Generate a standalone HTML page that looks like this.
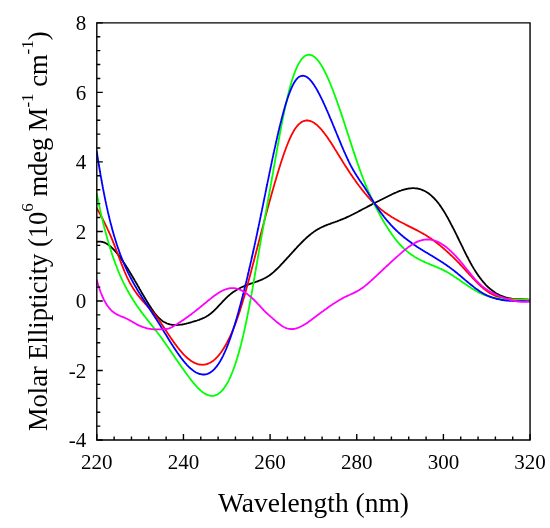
<!DOCTYPE html>
<html><head><meta charset="utf-8"><style>
html,body{margin:0;padding:0;background:#fff;width:550px;height:528px;overflow:hidden;font-family:"Liberation Serif",serif;}
svg{display:block;will-change:transform;}
</style></head><body>
<svg width="550" height="528" viewBox="0 0 550 528">
<rect width="550" height="528" fill="#fff"/>
<defs><clipPath id="c"><rect x="96.80" y="22.85" width="433.25" height="417.20"/></clipPath></defs>
<g clip-path="url(#c)" fill="none" stroke-width="1.80" stroke-linejoin="round" stroke-linecap="round">
<path stroke="#000000" d="M96.8,241.9 97.8,241.7 98.8,241.6 99.8,241.6 100.8,241.6 101.8,241.8 102.8,242.0 103.8,242.3 104.8,242.7 105.8,243.2 106.8,243.8 107.8,244.4 108.8,245.1 109.8,245.9 110.8,246.7 111.5,247.4 112.3,248.1 113.0,248.8 113.8,249.6 114.5,250.4 115.3,251.2 116.0,252.1 116.8,253.0 117.5,253.9 118.3,254.9 119.0,255.8 119.8,256.8 120.5,257.9 121.3,258.9 122.0,260.0 122.8,261.1 123.5,262.2 124.3,263.3 125.0,264.5 125.8,265.6 126.5,266.8 127.3,268.0 128.1,269.2 128.8,270.5 129.6,271.7 130.3,272.9 131.1,274.2 131.8,275.5 132.6,276.8 133.3,278.0 134.1,279.3 134.8,280.6 135.6,281.9 136.1,282.8 136.6,283.6 137.1,284.5 137.6,285.4 138.1,286.3 138.6,287.1 139.1,288.0 139.6,288.9 140.1,289.7 140.6,290.6 141.3,291.9 142.1,293.2 142.8,294.5 143.6,295.8 144.3,297.0 145.1,298.3 145.8,299.5 146.6,300.8 147.3,302.0 148.1,303.2 148.8,304.4 149.6,305.6 150.3,306.8 151.1,307.9 151.8,309.1 152.6,310.1 153.3,311.2 154.1,312.2 154.8,313.2 155.6,314.2 156.3,315.1 157.1,316.0 157.8,316.8 158.6,317.6 159.3,318.4 160.1,319.0 161.1,319.9 162.1,320.7 163.1,321.4 164.1,322.0 165.1,322.5 166.1,323.0 167.1,323.5 168.1,323.8 169.1,324.1 170.1,324.4 171.1,324.6 172.1,324.8 173.1,324.9 174.1,325.0 175.1,325.0 176.1,325.0 177.1,325.0 178.1,324.9 179.1,324.9 180.1,324.7 181.1,324.6 182.1,324.5 183.1,324.3 184.1,324.1 185.1,323.9 186.1,323.7 187.1,323.4 188.1,323.2 189.1,322.9 190.1,322.6 191.1,322.3 192.1,322.0 193.1,321.7 194.1,321.4 195.1,321.1 196.1,320.8 197.1,320.5 198.1,320.1 199.1,319.8 200.1,319.4 201.1,319.0 202.1,318.6 203.1,318.2 204.1,317.7 205.1,317.2 206.1,316.7 207.1,316.1 208.1,315.5 209.1,314.8 210.1,314.1 211.1,313.3 212.1,312.4 212.8,311.8 213.6,311.1 214.3,310.4 215.1,309.6 215.8,308.9 216.6,308.1 217.3,307.3 218.1,306.5 218.8,305.7 219.6,304.9 220.3,304.1 221.1,303.3 221.8,302.5 222.6,301.7 223.3,300.9 224.1,300.1 224.8,299.4 225.6,298.6 226.3,297.9 227.1,297.1 227.8,296.4 228.6,295.8 229.6,294.9 230.6,294.1 231.6,293.3 232.6,292.5 233.6,291.8 234.6,291.2 235.6,290.5 236.6,289.9 237.6,289.3 238.6,288.8 239.6,288.3 240.6,287.8 241.6,287.3 242.6,286.8 243.6,286.4 244.6,286.0 245.6,285.6 246.6,285.2 247.6,284.8 248.6,284.5 249.6,284.1 250.6,283.7 251.6,283.4 252.6,283.1 253.6,282.7 254.6,282.4 255.6,282.0 256.6,281.7 257.6,281.3 258.6,280.9 259.6,280.5 260.6,280.1 261.6,279.7 262.6,279.3 263.6,278.8 264.6,278.3 265.6,277.8 266.6,277.2 267.6,276.6 268.6,276.0 269.6,275.3 270.6,274.5 271.6,273.7 272.6,272.9 273.6,272.1 274.3,271.4 275.1,270.7 275.8,270.0 276.6,269.3 277.3,268.6 278.1,267.8 278.8,267.1 279.6,266.3 280.3,265.5 281.1,264.7 281.8,263.9 282.6,263.1 283.3,262.3 284.1,261.5 284.8,260.7 285.6,259.9 286.3,259.1 287.1,258.2 287.8,257.4 288.6,256.6 289.3,255.8 290.1,254.9 290.8,254.1 291.6,253.3 292.3,252.4 293.1,251.6 293.8,250.8 294.6,250.0 295.3,249.1 296.1,248.3 296.8,247.5 297.6,246.7 298.3,245.9 299.1,245.1 299.8,244.3 300.6,243.6 301.3,242.8 302.1,242.0 302.8,241.3 303.6,240.5 304.3,239.8 305.1,239.1 305.8,238.4 306.6,237.7 307.3,237.0 308.1,236.4 309.1,235.5 310.1,234.7 311.1,233.9 312.1,233.1 313.1,232.4 314.1,231.6 315.1,231.0 316.1,230.3 317.1,229.7 318.1,229.1 319.1,228.6 320.1,228.0 321.1,227.5 322.1,227.0 323.1,226.6 324.1,226.1 325.1,225.7 326.1,225.3 327.1,224.9 328.1,224.5 329.1,224.1 330.1,223.8 331.1,223.4 332.1,223.0 333.1,222.7 334.1,222.3 335.1,222.0 336.1,221.6 337.1,221.3 338.1,220.9 339.1,220.5 340.1,220.1 341.1,219.7 342.1,219.3 343.1,218.9 344.1,218.5 345.1,218.1 346.1,217.6 347.1,217.1 348.1,216.7 349.1,216.2 350.1,215.7 351.1,215.2 352.1,214.7 353.1,214.2 354.1,213.7 355.1,213.2 356.1,212.7 357.1,212.2 358.1,211.7 359.1,211.1 360.1,210.6 361.1,210.1 362.1,209.5 363.1,209.0 364.1,208.5 365.1,208.0 366.1,207.5 367.1,206.9 368.1,206.4 369.1,205.9 370.1,205.4 371.1,204.9 372.1,204.3 373.1,203.8 374.1,203.3 375.1,202.8 376.1,202.3 377.1,201.8 378.1,201.3 379.1,200.8 380.1,200.2 381.1,199.7 382.1,199.2 383.1,198.7 384.1,198.2 385.1,197.7 386.1,197.2 387.1,196.7 388.1,196.2 389.1,195.7 390.1,195.2 391.1,194.8 392.1,194.3 393.1,193.8 394.1,193.3 395.1,192.9 396.1,192.5 397.1,192.0 398.1,191.6 399.1,191.2 400.1,190.8 401.1,190.5 402.1,190.1 403.1,189.8 404.1,189.5 405.1,189.3 406.1,189.0 407.1,188.8 408.1,188.6 409.1,188.5 410.1,188.4 411.1,188.3 412.1,188.2 413.1,188.2 414.1,188.2 415.1,188.3 416.1,188.4 417.1,188.5 418.1,188.7 419.1,189.0 420.1,189.2 421.1,189.5 422.1,189.9 423.1,190.3 424.1,190.8 425.1,191.3 426.1,191.8 427.1,192.5 428.1,193.1 429.1,193.8 430.1,194.6 431.1,195.4 432.1,196.3 432.8,197.0 433.6,197.7 434.3,198.5 435.1,199.3 435.8,200.1 436.6,201.0 437.3,201.9 438.1,202.8 438.8,203.8 439.6,204.8 440.3,205.9 441.1,207.0 441.8,208.1 442.6,209.2 443.3,210.4 444.1,211.6 444.8,212.8 445.6,214.1 446.3,215.4 446.8,216.3 447.3,217.1 447.8,218.0 448.3,218.9 448.8,219.9 449.3,220.8 449.8,221.7 450.3,222.7 450.8,223.6 451.3,224.6 451.8,225.5 452.3,226.5 452.8,227.5 453.3,228.4 453.8,229.4 454.3,230.4 454.8,231.4 455.3,232.4 455.8,233.4 456.3,234.4 456.8,235.4 457.3,236.5 457.8,237.5 458.3,238.5 458.8,239.5 459.3,240.6 459.8,241.6 460.3,242.6 460.8,243.6 461.3,244.7 461.8,245.7 462.3,246.7 462.8,247.7 463.3,248.8 463.8,249.8 464.3,250.8 464.8,251.8 465.3,252.8 465.8,253.8 466.3,254.8 466.8,255.8 467.3,256.8 467.8,257.7 468.3,258.7 468.8,259.7 469.3,260.6 469.8,261.5 470.3,262.5 470.8,263.4 471.3,264.3 471.8,265.2 472.3,266.1 473.1,267.4 473.8,268.6 474.6,269.9 475.3,271.1 476.1,272.2 476.8,273.4 477.6,274.5 478.3,275.6 479.1,276.6 479.8,277.6 480.6,278.6 481.3,279.6 482.1,280.5 482.8,281.5 483.6,282.3 484.3,283.2 485.1,284.0 485.8,284.8 486.6,285.6 487.3,286.3 488.1,287.1 488.8,287.8 489.6,288.4 490.6,289.3 491.6,290.1 492.6,290.8 493.6,291.6 494.6,292.2 495.6,292.9 496.6,293.5 497.6,294.0 498.6,294.6 499.6,295.1 500.6,295.5 501.6,295.9 502.6,296.3 503.6,296.7 504.6,297.0 505.6,297.4 506.6,297.6 507.6,297.9 508.6,298.1 509.6,298.3 510.6,298.5 511.6,298.7 512.5,298.8 513.5,299.0 514.5,299.1 515.5,299.2 516.5,299.3 517.5,299.4 518.5,299.4 519.5,299.5 520.5,299.5 521.5,299.6 522.5,299.6 523.5,299.6 524.5,299.7 525.5,299.7 526.5,299.7 527.5,299.7 528.5,299.8 529.5,299.8 529.8,299.8"/>
<path stroke="#ff0000" d="M96.8,208.1 97.3,209.0 97.8,210.0 98.3,210.9 98.8,211.8 99.3,212.7 99.8,213.6 100.3,214.6 100.8,215.5 101.3,216.5 101.8,217.4 102.3,218.4 102.8,219.3 103.3,220.3 103.8,221.3 104.3,222.3 104.8,223.3 105.3,224.3 105.8,225.3 106.3,226.4 106.8,227.4 107.3,228.5 107.8,229.6 108.3,230.6 108.8,231.7 109.3,232.9 109.8,234.0 110.3,235.1 110.8,236.3 111.3,237.5 111.8,238.7 112.3,239.9 112.8,241.1 113.3,242.4 113.8,243.7 114.3,244.9 114.8,246.2 115.3,247.5 115.8,248.8 116.3,250.2 116.8,251.5 117.3,252.8 117.8,254.1 118.3,255.5 118.8,256.8 119.3,258.1 119.8,259.4 120.3,260.8 120.8,262.1 121.3,263.4 121.8,264.7 122.3,265.9 122.8,267.2 123.3,268.4 123.8,269.7 124.3,270.9 124.8,272.1 125.3,273.2 125.8,274.4 126.3,275.5 126.8,276.6 127.3,277.6 127.8,278.7 128.3,279.7 128.8,280.7 129.3,281.6 129.8,282.6 130.3,283.5 130.8,284.4 131.3,285.3 132.1,286.6 132.8,287.8 133.6,289.0 134.3,290.1 135.1,291.2 135.8,292.3 136.6,293.4 137.3,294.4 138.1,295.4 138.8,296.3 139.6,297.2 140.3,298.2 141.1,299.1 141.8,299.9 142.6,300.8 143.3,301.6 144.1,302.5 144.8,303.3 145.6,304.1 146.3,304.9 147.1,305.8 147.8,306.6 148.6,307.4 149.3,308.2 150.1,309.0 150.8,309.9 151.6,310.7 152.3,311.6 153.1,312.5 153.8,313.4 154.6,314.3 155.3,315.2 156.1,316.2 156.8,317.2 157.6,318.2 158.3,319.3 159.1,320.3 159.8,321.4 160.6,322.5 161.3,323.6 162.1,324.7 162.8,325.8 163.6,327.0 164.3,328.1 165.1,329.3 165.8,330.4 166.6,331.5 167.3,332.7 168.1,333.8 168.8,334.9 169.6,336.1 170.3,337.2 171.1,338.3 171.8,339.4 172.6,340.4 173.3,341.5 174.1,342.6 174.8,343.6 175.6,344.6 176.3,345.6 177.1,346.6 177.8,347.6 178.6,348.5 179.3,349.4 180.1,350.4 180.8,351.2 181.6,352.1 182.3,353.0 183.1,353.8 183.8,354.6 184.6,355.4 185.3,356.1 186.1,356.8 186.8,357.5 187.6,358.2 188.6,359.0 189.6,359.8 190.6,360.5 191.6,361.2 192.6,361.8 193.6,362.4 194.6,362.9 195.6,363.3 196.6,363.7 197.6,364.1 198.6,364.3 199.6,364.5 200.6,364.7 201.6,364.7 202.6,364.8 203.6,364.7 204.6,364.6 205.6,364.4 206.6,364.2 207.6,363.8 208.6,363.4 209.6,363.0 210.6,362.4 211.6,361.8 212.6,361.2 213.6,360.4 214.6,359.6 215.3,358.9 216.1,358.2 216.8,357.4 217.6,356.6 218.3,355.8 219.1,354.9 219.8,353.9 220.6,353.0 221.3,351.9 222.1,350.8 222.8,349.7 223.6,348.6 224.3,347.3 225.1,346.1 225.6,345.2 226.1,344.3 226.6,343.4 227.1,342.5 227.6,341.5 228.1,340.5 228.6,339.5 229.1,338.5 229.6,337.4 230.1,336.4 230.6,335.3 231.1,334.2 231.6,333.0 232.1,331.9 232.6,330.7 233.1,329.5 233.6,328.2 234.1,327.0 234.6,325.7 235.1,324.4 235.6,323.1 236.1,321.7 236.6,320.4 237.1,319.0 237.6,317.5 238.1,316.1 238.6,314.6 239.1,313.1 239.6,311.6 240.1,310.1 240.6,308.5 241.1,306.9 241.6,305.3 242.1,303.7 242.6,302.0 243.1,300.3 243.6,298.6 244.1,296.9 244.6,295.2 245.1,293.4 245.6,291.7 246.1,289.9 246.6,288.1 247.1,286.3 247.6,284.5 248.1,282.7 248.6,280.8 249.1,279.0 249.6,277.1 250.1,275.2 250.6,273.3 251.1,271.4 251.6,269.5 252.1,267.6 252.6,265.7 253.1,263.8 253.6,261.9 254.1,260.0 254.6,258.0 255.1,256.1 255.6,254.2 256.1,252.3 256.6,250.3 257.1,248.4 257.6,246.5 258.1,244.6 258.6,242.6 259.1,240.7 259.6,238.8 260.1,236.9 260.6,235.0 261.1,233.1 261.6,231.2 262.1,229.3 262.6,227.4 263.1,225.5 263.6,223.6 264.1,221.7 264.6,219.8 265.1,217.9 265.6,216.1 266.1,214.2 266.6,212.3 267.1,210.5 267.6,208.6 268.1,206.8 268.6,205.0 269.1,203.1 269.6,201.3 270.1,199.5 270.6,197.7 271.1,195.9 271.6,194.1 272.1,192.4 272.6,190.6 273.1,188.9 273.6,187.1 274.1,185.4 274.6,183.6 275.1,181.9 275.6,180.2 276.1,178.5 276.6,176.8 277.1,175.2 277.6,173.5 278.1,171.9 278.6,170.2 279.1,168.6 279.6,167.0 280.1,165.4 280.6,163.8 281.1,162.3 281.6,160.7 282.1,159.2 282.6,157.7 283.1,156.2 283.6,154.8 284.1,153.3 284.6,151.9 285.1,150.5 285.6,149.2 286.1,147.8 286.6,146.5 287.1,145.2 287.6,144.0 288.1,142.7 288.6,141.5 289.1,140.3 289.6,139.2 290.1,138.1 290.6,137.0 291.1,136.0 291.6,134.9 292.1,134.0 292.6,133.0 293.1,132.1 293.6,131.2 294.3,130.0 295.1,128.8 295.8,127.8 296.6,126.8 297.3,125.8 298.1,125.0 298.8,124.2 299.6,123.6 300.6,122.8 301.6,122.1 302.6,121.5 303.6,121.1 304.6,120.8 305.6,120.5 306.6,120.4 307.6,120.5 308.6,120.6 309.6,120.8 310.6,121.1 311.6,121.5 312.6,122.0 313.6,122.5 314.6,123.2 315.6,123.9 316.6,124.7 317.6,125.6 318.3,126.3 319.1,127.1 319.8,127.8 320.6,128.7 321.3,129.5 322.1,130.4 322.8,131.3 323.6,132.2 324.3,133.2 325.1,134.2 325.8,135.2 326.6,136.3 327.3,137.3 328.1,138.4 328.8,139.5 329.6,140.6 330.3,141.8 331.1,142.9 331.8,144.1 332.6,145.3 333.3,146.5 334.1,147.6 334.8,148.9 335.6,150.1 336.3,151.3 337.1,152.5 337.8,153.7 338.6,154.9 339.3,156.2 340.1,157.4 340.8,158.6 341.6,159.8 342.3,161.0 343.1,162.2 343.8,163.4 344.6,164.6 345.3,165.8 346.1,167.0 346.8,168.1 347.6,169.3 348.3,170.4 349.1,171.6 349.8,172.7 350.6,173.8 351.3,174.9 352.1,176.0 352.8,177.1 353.6,178.2 354.3,179.3 355.1,180.3 355.8,181.4 356.6,182.4 357.3,183.5 358.1,184.5 358.8,185.5 359.6,186.5 360.3,187.5 361.1,188.4 361.8,189.4 362.6,190.4 363.3,191.3 364.1,192.2 364.8,193.1 365.6,194.0 366.3,194.9 367.1,195.8 367.8,196.7 368.6,197.5 369.3,198.3 370.1,199.1 370.8,200.0 371.6,200.7 372.3,201.5 373.1,202.3 373.8,203.0 374.6,203.7 375.3,204.5 376.1,205.2 376.8,205.8 377.6,206.5 378.6,207.4 379.6,208.2 380.6,209.1 381.6,209.9 382.6,210.6 383.6,211.4 384.6,212.2 385.6,212.9 386.6,213.6 387.6,214.3 388.6,214.9 389.6,215.6 390.6,216.2 391.6,216.9 392.6,217.5 393.6,218.1 394.6,218.7 395.6,219.2 396.6,219.8 397.6,220.4 398.6,220.9 399.6,221.5 400.6,222.0 401.6,222.5 402.6,223.0 403.6,223.5 404.6,224.0 405.6,224.6 406.6,225.1 407.6,225.6 408.6,226.1 409.6,226.6 410.6,227.1 411.6,227.6 412.6,228.1 413.6,228.6 414.6,229.1 415.6,229.6 416.6,230.1 417.6,230.6 418.6,231.2 419.6,231.7 420.6,232.2 421.6,232.8 422.6,233.4 423.6,233.9 424.6,234.5 425.6,235.1 426.6,235.7 427.6,236.4 428.6,237.0 429.6,237.7 430.6,238.3 431.6,239.0 432.6,239.7 433.6,240.5 434.6,241.2 435.6,242.0 436.6,242.7 437.6,243.5 438.6,244.3 439.6,245.1 440.6,245.9 441.6,246.8 442.6,247.6 443.6,248.5 444.6,249.4 445.6,250.2 446.3,250.9 447.1,251.6 447.8,252.2 448.6,252.9 449.3,253.6 450.1,254.3 450.8,255.0 451.6,255.7 452.3,256.4 453.1,257.1 453.8,257.8 454.6,258.6 455.3,259.3 456.1,260.1 456.8,260.8 457.6,261.6 458.3,262.4 459.1,263.2 459.8,264.0 460.6,264.8 461.3,265.6 462.1,266.4 462.8,267.2 463.6,268.0 464.3,268.8 465.1,269.7 465.8,270.5 466.6,271.3 467.3,272.1 468.1,273.0 468.8,273.8 469.6,274.6 470.3,275.4 471.1,276.2 471.8,277.0 472.6,277.8 473.3,278.6 474.1,279.4 474.8,280.2 475.6,281.0 476.3,281.7 477.1,282.5 477.8,283.2 478.6,284.0 479.3,284.7 480.1,285.4 480.8,286.1 481.6,286.8 482.6,287.6 483.6,288.5 484.6,289.3 485.6,290.1 486.6,290.8 487.6,291.5 488.6,292.2 489.6,292.9 490.6,293.5 491.6,294.0 492.6,294.5 493.6,295.0 494.6,295.5 495.6,295.9 496.6,296.2 497.6,296.6 498.6,296.9 499.6,297.2 500.6,297.4 501.6,297.7 502.6,297.9 503.6,298.1 504.6,298.2 505.6,298.4 506.6,298.5 507.6,298.6 508.6,298.7 509.6,298.8 510.6,298.8 511.6,298.9 512.5,298.9 513.5,299.0 514.5,299.0 515.5,299.0 516.5,299.0 517.5,299.1 518.5,299.1 519.5,299.1 520.5,299.1 521.5,299.1 522.5,299.2 523.5,299.2 524.5,299.3 525.5,299.3 526.5,299.4 527.5,299.5 528.5,299.6 529.5,299.7 529.8,299.7"/>
<path stroke="#00ff00" d="M96.8,193.6 97.0,194.9 97.3,196.1 97.5,197.4 97.8,198.6 98.0,199.8 98.3,201.0 98.5,202.2 98.8,203.4 99.0,204.6 99.3,205.8 99.5,206.9 99.8,208.1 100.0,209.2 100.3,210.4 100.5,211.5 100.8,212.6 101.0,213.7 101.3,214.8 101.5,215.9 101.8,217.0 102.0,218.0 102.3,219.1 102.5,220.2 102.8,221.2 103.0,222.2 103.3,223.3 103.5,224.3 103.8,225.3 104.0,226.3 104.3,227.3 104.5,228.3 104.8,229.2 105.3,231.2 105.8,233.0 106.3,234.9 106.8,236.7 107.3,238.5 107.8,240.3 108.3,242.0 108.8,243.7 109.3,245.4 109.8,247.1 110.3,248.7 110.8,250.3 111.3,251.8 111.8,253.4 112.3,254.9 112.8,256.4 113.3,257.8 113.8,259.2 114.3,260.6 114.8,262.0 115.3,263.4 115.8,264.7 116.3,266.0 116.8,267.3 117.3,268.6 117.8,269.8 118.3,271.1 118.8,272.3 119.3,273.5 119.8,274.6 120.3,275.8 120.8,276.9 121.3,278.0 121.8,279.1 122.3,280.2 122.8,281.2 123.3,282.3 123.8,283.3 124.3,284.3 124.8,285.3 125.3,286.3 125.8,287.2 126.3,288.2 126.8,289.1 127.3,290.1 127.8,291.0 128.3,291.9 128.8,292.8 129.3,293.6 129.8,294.5 130.6,295.8 131.3,297.0 132.1,298.3 132.8,299.5 133.6,300.7 134.3,301.8 135.1,303.0 135.8,304.1 136.6,305.2 137.3,306.3 138.1,307.4 138.8,308.5 139.6,309.5 140.3,310.5 141.1,311.6 141.8,312.6 142.6,313.6 143.3,314.6 144.1,315.6 144.8,316.5 145.6,317.5 146.3,318.5 147.1,319.4 147.8,320.4 148.6,321.3 149.3,322.3 150.1,323.2 150.8,324.2 151.6,325.1 152.3,326.0 153.1,327.0 153.8,327.9 154.6,328.9 155.3,329.9 156.1,330.8 156.8,331.8 157.6,332.8 158.3,333.8 159.1,334.8 159.8,335.8 160.6,336.8 161.3,337.8 162.1,338.8 162.8,339.9 163.6,340.9 164.3,342.0 165.1,343.0 165.8,344.1 166.6,345.2 167.3,346.3 168.1,347.3 168.8,348.4 169.6,349.5 170.3,350.6 171.1,351.7 171.8,352.8 172.6,353.9 173.3,355.0 174.1,356.1 174.8,357.2 175.6,358.3 176.3,359.4 177.1,360.5 177.8,361.6 178.6,362.6 179.3,363.7 180.1,364.8 180.8,365.9 181.6,367.0 182.3,368.0 183.1,369.1 183.8,370.1 184.6,371.2 185.3,372.2 186.1,373.3 186.8,374.3 187.6,375.3 188.3,376.3 189.1,377.3 189.8,378.3 190.6,379.3 191.3,380.3 192.1,381.2 192.8,382.1 193.6,383.1 194.3,383.9 195.1,384.8 195.8,385.7 196.6,386.5 197.3,387.3 198.1,388.1 198.8,388.8 199.6,389.5 200.3,390.2 201.3,391.1 202.3,391.9 203.3,392.6 204.3,393.3 205.3,393.9 206.3,394.4 207.3,394.8 208.3,395.2 209.3,395.5 210.3,395.7 211.3,395.8 212.3,395.8 213.3,395.8 214.3,395.6 215.3,395.3 216.3,394.9 217.3,394.5 218.3,393.9 219.3,393.1 220.3,392.3 221.1,391.6 221.8,390.8 222.6,390.0 223.3,389.1 224.1,388.1 224.8,387.0 225.6,385.9 226.3,384.7 227.1,383.4 227.6,382.5 228.1,381.6 228.6,380.6 229.1,379.6 229.6,378.5 230.1,377.5 230.6,376.3 231.1,375.2 231.6,374.0 232.1,372.8 232.6,371.5 233.1,370.2 233.6,368.9 234.1,367.5 234.6,366.1 235.1,364.7 235.6,363.2 236.1,361.6 236.6,360.1 237.1,358.5 237.6,356.8 238.1,355.1 238.6,353.4 239.1,351.6 239.6,349.8 240.1,348.0 240.6,346.1 241.1,344.2 241.3,343.2 241.6,342.2 241.8,341.2 242.1,340.2 242.3,339.1 242.6,338.1 242.8,337.1 243.1,336.0 243.3,334.9 243.6,333.9 243.8,332.8 244.1,331.7 244.3,330.6 244.6,329.4 244.8,328.3 245.1,327.2 245.3,326.0 245.6,324.8 245.8,323.7 246.1,322.5 246.3,321.3 246.6,320.1 246.8,318.8 247.1,317.6 247.3,316.4 247.6,315.1 247.8,313.9 248.1,312.6 248.3,311.3 248.6,310.0 248.8,308.7 249.1,307.4 249.3,306.1 249.6,304.8 249.8,303.4 250.1,302.1 250.3,300.7 250.6,299.4 250.8,298.0 251.1,296.6 251.3,295.2 251.6,293.9 251.8,292.5 252.1,291.1 252.3,289.6 252.6,288.2 252.8,286.8 253.1,285.4 253.3,284.0 253.6,282.5 253.8,281.1 254.1,279.6 254.3,278.2 254.6,276.7 254.8,275.3 255.1,273.8 255.3,272.4 255.6,270.9 255.8,269.5 256.1,268.0 256.3,266.5 256.6,265.1 256.8,263.6 257.1,262.2 257.3,260.7 257.6,259.2 257.8,257.8 258.1,256.3 258.3,254.9 258.6,253.4 258.8,252.0 259.1,250.5 259.3,249.1 259.6,247.7 259.8,246.2 260.1,244.8 260.3,243.4 260.6,242.0 260.8,240.6 261.1,239.1 261.3,237.7 261.6,236.3 261.8,234.9 262.1,233.5 262.3,232.1 262.6,230.7 262.8,229.3 263.1,227.9 263.3,226.5 263.6,225.1 263.8,223.7 264.1,222.3 264.3,220.9 264.6,219.5 264.8,218.1 265.1,216.7 265.3,215.4 265.6,214.0 265.8,212.6 266.1,211.2 266.3,209.8 266.6,208.4 266.8,207.0 267.1,205.7 267.3,204.3 267.6,202.9 267.8,201.5 268.1,200.1 268.3,198.7 268.6,197.3 268.8,196.0 269.1,194.6 269.3,193.2 269.6,191.8 269.8,190.4 270.1,189.0 270.3,187.6 270.6,186.2 270.8,184.8 271.1,183.4 271.3,182.0 271.6,180.6 271.8,179.2 272.1,177.8 272.3,176.4 272.6,175.0 272.8,173.6 273.1,172.2 273.3,170.7 273.6,169.3 273.8,167.9 274.1,166.5 274.3,165.0 274.6,163.6 274.8,162.2 275.1,160.8 275.3,159.4 275.6,157.9 275.8,156.5 276.1,155.1 276.3,153.7 276.6,152.3 276.8,150.9 277.1,149.4 277.3,148.0 277.6,146.6 277.8,145.2 278.1,143.8 278.3,142.4 278.6,141.1 278.8,139.7 279.1,138.3 279.3,136.9 279.6,135.6 279.8,134.2 280.1,132.8 280.3,131.5 280.6,130.2 280.8,128.8 281.1,127.5 281.3,126.2 281.6,124.9 281.8,123.6 282.1,122.3 282.3,121.0 282.6,119.7 282.8,118.5 283.1,117.2 283.3,116.0 283.6,114.8 283.8,113.5 284.1,112.3 284.3,111.1 284.6,110.0 284.8,108.8 285.1,107.6 285.3,106.5 285.6,105.4 285.8,104.2 286.1,103.1 286.3,102.0 286.6,100.9 286.8,99.9 287.1,98.8 287.3,97.8 287.6,96.7 287.8,95.7 288.1,94.7 288.3,93.7 288.6,92.7 288.8,91.8 289.3,89.8 289.8,88.0 290.3,86.2 290.8,84.4 291.3,82.7 291.8,81.1 292.3,79.5 292.8,77.9 293.3,76.5 293.8,75.0 294.3,73.6 294.8,72.3 295.3,71.0 295.8,69.8 296.3,68.6 296.8,67.5 297.3,66.4 297.8,65.4 298.3,64.4 298.8,63.5 299.3,62.7 300.1,61.4 300.8,60.3 301.6,59.3 302.3,58.4 303.1,57.6 303.8,56.9 304.8,56.1 305.8,55.5 306.8,55.1 307.8,54.8 308.8,54.7 309.8,54.8 310.8,55.0 311.8,55.3 312.8,55.8 313.8,56.5 314.8,57.2 315.6,57.9 316.3,58.6 317.1,59.4 317.8,60.3 318.6,61.3 319.3,62.3 320.1,63.4 320.8,64.5 321.6,65.7 322.3,67.0 322.8,67.8 323.3,68.7 323.8,69.7 324.3,70.6 324.8,71.6 325.3,72.6 325.8,73.6 326.3,74.7 326.8,75.7 327.3,76.8 327.8,77.9 328.3,79.0 328.8,80.2 329.3,81.4 329.8,82.5 330.3,83.7 330.8,85.0 331.3,86.2 331.8,87.5 332.3,88.7 332.8,90.0 333.3,91.3 333.8,92.6 334.3,94.0 334.8,95.3 335.3,96.7 335.8,98.1 336.3,99.5 336.8,100.9 337.3,102.3 337.8,103.7 338.3,105.1 338.8,106.6 339.3,108.0 339.8,109.5 340.3,110.9 340.8,112.4 341.3,113.9 341.8,115.4 342.3,116.9 342.8,118.4 343.3,119.9 343.8,121.4 344.3,123.0 344.8,124.5 345.3,126.0 345.8,127.6 346.3,129.1 346.8,130.6 347.3,132.2 347.8,133.7 348.3,135.3 348.8,136.8 349.3,138.3 349.8,139.9 350.3,141.4 350.8,143.0 351.3,144.5 351.8,146.0 352.3,147.6 352.8,149.1 353.3,150.6 353.8,152.1 354.3,153.6 354.8,155.1 355.3,156.6 355.8,158.1 356.3,159.6 356.8,161.1 357.3,162.5 357.8,164.0 358.3,165.4 358.8,166.8 359.3,168.2 359.8,169.6 360.3,171.0 360.8,172.4 361.3,173.7 361.8,175.1 362.3,176.4 362.8,177.7 363.3,179.0 363.8,180.2 364.3,181.5 364.8,182.7 365.3,184.0 365.8,185.2 366.3,186.4 366.8,187.6 367.3,188.7 367.8,189.9 368.3,191.0 368.8,192.2 369.3,193.3 369.8,194.4 370.3,195.5 370.8,196.6 371.3,197.7 371.8,198.8 372.3,199.8 372.8,200.9 373.3,201.9 373.8,203.0 374.3,204.0 374.8,205.0 375.3,206.0 375.8,207.0 376.3,208.0 376.8,209.0 377.3,209.9 377.8,210.9 378.3,211.9 378.8,212.8 379.3,213.7 379.8,214.7 380.3,215.6 380.8,216.5 381.3,217.4 381.8,218.3 382.3,219.2 382.8,220.1 383.3,220.9 384.1,222.2 384.8,223.5 385.6,224.7 386.3,225.9 387.1,227.1 387.8,228.3 388.6,229.5 389.3,230.6 390.1,231.7 390.8,232.8 391.6,233.9 392.3,235.0 393.1,236.0 393.8,237.0 394.6,238.0 395.3,239.0 396.1,239.9 396.8,240.9 397.6,241.8 398.3,242.6 399.1,243.5 399.8,244.3 400.6,245.2 401.3,246.0 402.1,246.7 402.8,247.5 403.6,248.2 404.3,248.9 405.1,249.6 405.8,250.3 406.8,251.1 407.8,251.9 408.8,252.7 409.8,253.5 410.8,254.2 411.8,254.9 412.8,255.6 413.8,256.2 414.8,256.9 415.8,257.5 416.8,258.1 417.8,258.6 418.8,259.2 419.8,259.7 420.8,260.2 421.8,260.7 422.8,261.2 423.8,261.6 424.8,262.1 425.8,262.5 426.8,263.0 427.8,263.4 428.8,263.8 429.8,264.2 430.8,264.7 431.8,265.1 432.8,265.5 433.8,265.9 434.8,266.3 435.8,266.7 436.8,267.2 437.8,267.6 438.8,268.0 439.8,268.5 440.8,268.9 441.8,269.4 442.8,269.9 443.8,270.4 444.8,270.9 445.8,271.4 446.8,271.9 447.8,272.5 448.8,273.1 449.8,273.7 450.8,274.3 451.8,274.9 452.8,275.5 453.8,276.2 454.8,276.9 455.8,277.5 456.8,278.2 457.8,278.9 458.8,279.6 459.8,280.3 460.8,281.0 461.8,281.7 462.8,282.4 463.8,283.1 464.8,283.8 465.8,284.4 466.8,285.1 467.8,285.8 468.8,286.5 469.8,287.1 470.8,287.8 471.8,288.4 472.8,289.0 473.8,289.6 474.8,290.2 475.8,290.8 476.8,291.3 477.8,291.9 478.8,292.4 479.8,292.9 480.8,293.3 481.8,293.8 482.8,294.2 483.8,294.6 484.8,295.0 485.8,295.4 486.8,295.7 487.8,296.0 488.8,296.3 489.8,296.6 490.8,296.9 491.8,297.2 492.8,297.4 493.8,297.6 494.8,297.8 495.8,298.0 496.8,298.2 497.8,298.4 498.8,298.5 499.8,298.7 500.8,298.8 501.8,298.9 502.8,299.0 503.8,299.1 504.8,299.2 505.8,299.3 506.8,299.4 507.8,299.4 508.8,299.5 509.8,299.5 510.8,299.6 511.8,299.6 512.8,299.6 513.8,299.6 514.8,299.7 515.8,299.7 516.8,299.7 517.8,299.7 518.8,299.7 519.8,299.7 520.8,299.7 521.8,299.7 522.8,299.6 523.8,299.6 524.8,299.6 525.8,299.6 526.8,299.6 527.8,299.6 528.8,299.6 529.8,299.6"/>
<path stroke="#0000ff" d="M96.8,151.5 97.0,153.1 97.3,154.8 97.5,156.4 97.8,158.0 98.0,159.6 98.3,161.1 98.5,162.7 98.8,164.2 99.0,165.8 99.3,167.3 99.5,168.8 99.8,170.3 100.0,171.8 100.3,173.2 100.5,174.7 100.8,176.1 101.0,177.5 101.3,178.9 101.5,180.3 101.8,181.7 102.0,183.1 102.3,184.5 102.5,185.8 102.8,187.1 103.0,188.5 103.3,189.8 103.5,191.1 103.8,192.3 104.0,193.6 104.3,194.9 104.5,196.1 104.8,197.4 105.0,198.6 105.3,199.8 105.5,201.0 105.8,202.2 106.0,203.4 106.3,204.5 106.5,205.7 106.8,206.8 107.0,208.0 107.3,209.1 107.5,210.2 107.8,211.3 108.0,212.4 108.3,213.5 108.5,214.5 108.8,215.6 109.0,216.6 109.3,217.7 109.5,218.7 109.8,219.7 110.0,220.7 110.3,221.7 110.5,222.7 110.8,223.7 111.3,225.6 111.8,227.5 112.3,229.4 112.8,231.2 113.3,232.9 113.8,234.7 114.3,236.4 114.8,238.1 115.3,239.7 115.8,241.3 116.3,242.9 116.8,244.5 117.3,246.0 117.8,247.5 118.3,248.9 118.8,250.3 119.3,251.7 119.8,253.1 120.3,254.5 120.8,255.8 121.3,257.1 121.8,258.4 122.3,259.6 122.8,260.9 123.3,262.1 123.8,263.2 124.3,264.4 124.8,265.6 125.3,266.7 125.8,267.8 126.3,268.9 126.8,270.0 127.3,271.0 127.8,272.1 128.3,273.1 128.8,274.1 129.3,275.1 129.8,276.1 130.3,277.1 130.8,278.0 131.3,279.0 131.8,279.9 132.3,280.9 132.8,281.8 133.3,282.7 133.8,283.6 134.3,284.5 134.8,285.4 135.3,286.3 135.8,287.1 136.6,288.4 137.3,289.7 138.1,290.9 138.8,292.2 139.6,293.4 140.3,294.6 141.1,295.8 141.8,297.0 142.6,298.2 143.3,299.4 144.1,300.5 144.8,301.7 145.6,302.8 146.3,304.0 147.1,305.1 147.8,306.2 148.6,307.4 149.3,308.5 150.1,309.6 150.8,310.8 151.6,311.9 152.3,313.1 153.1,314.2 153.8,315.4 154.6,316.5 155.3,317.7 156.1,318.8 156.8,320.0 157.6,321.2 158.3,322.4 159.1,323.6 159.8,324.8 160.6,326.0 161.3,327.3 162.1,328.5 162.8,329.7 163.6,330.9 164.3,332.2 165.1,333.4 165.8,334.6 166.6,335.8 167.3,337.1 168.1,338.3 168.8,339.5 169.6,340.7 170.3,341.9 171.1,343.1 171.8,344.3 172.6,345.4 173.3,346.6 174.1,347.7 174.8,348.9 175.6,350.0 176.3,351.1 177.1,352.2 177.8,353.3 178.6,354.4 179.3,355.4 180.1,356.4 180.8,357.5 181.6,358.5 182.3,359.4 183.1,360.4 183.8,361.3 184.6,362.2 185.3,363.1 186.1,363.9 186.8,364.8 187.6,365.6 188.3,366.3 189.1,367.1 189.8,367.8 190.6,368.5 191.6,369.3 192.6,370.1 193.6,370.9 194.6,371.6 195.6,372.2 196.6,372.7 197.6,373.2 198.6,373.6 199.6,374.0 200.6,374.2 201.6,374.4 202.6,374.5 203.6,374.5 204.6,374.5 205.6,374.3 206.6,374.1 207.6,373.8 208.6,373.4 209.6,372.9 210.6,372.3 211.6,371.6 212.6,370.8 213.3,370.1 214.1,369.4 214.8,368.6 215.6,367.7 216.3,366.8 217.1,365.9 217.8,364.8 218.6,363.8 219.3,362.6 220.1,361.4 220.8,360.1 221.3,359.2 221.8,358.3 222.3,357.3 222.8,356.3 223.3,355.3 223.8,354.2 224.3,353.2 224.8,352.1 225.3,350.9 225.8,349.8 226.3,348.6 226.8,347.4 227.3,346.1 227.8,344.9 228.3,343.6 228.8,342.2 229.3,340.9 229.8,339.5 230.3,338.1 230.8,336.7 231.3,335.2 231.8,333.8 232.3,332.3 232.8,330.7 233.3,329.2 233.8,327.6 234.3,326.0 234.8,324.4 235.3,322.8 235.8,321.1 236.3,319.4 236.8,317.7 237.3,316.0 237.8,314.2 238.3,312.5 238.8,310.7 239.3,308.8 239.8,307.0 240.3,305.2 240.8,303.3 241.3,301.4 241.8,299.5 242.3,297.6 242.6,296.6 242.8,295.6 243.1,294.6 243.3,293.6 243.6,292.7 243.8,291.7 244.1,290.7 244.3,289.7 244.6,288.6 244.8,287.6 245.1,286.6 245.3,285.6 245.6,284.6 245.8,283.5 246.1,282.5 246.3,281.5 246.6,280.4 246.8,279.4 247.1,278.3 247.3,277.3 247.6,276.2 247.8,275.2 248.1,274.1 248.3,273.0 248.6,272.0 248.8,270.9 249.1,269.8 249.3,268.7 249.6,267.6 249.8,266.5 250.1,265.5 250.3,264.4 250.6,263.3 250.8,262.1 251.1,261.0 251.3,259.9 251.6,258.8 251.8,257.7 252.1,256.6 252.3,255.4 252.6,254.3 252.8,253.2 253.1,252.1 253.3,250.9 253.6,249.8 253.8,248.6 254.1,247.5 254.3,246.3 254.6,245.2 254.8,244.0 255.1,242.9 255.3,241.7 255.6,240.5 255.8,239.4 256.1,238.2 256.3,237.0 256.6,235.9 256.8,234.7 257.1,233.5 257.3,232.3 257.6,231.1 257.8,230.0 258.1,228.8 258.3,227.6 258.6,226.4 258.8,225.2 259.1,224.0 259.3,222.8 259.6,221.6 259.8,220.4 260.1,219.2 260.3,217.9 260.6,216.7 260.8,215.5 261.1,214.3 261.3,213.1 261.6,211.9 261.8,210.6 262.1,209.4 262.3,208.2 262.6,207.0 262.8,205.7 263.1,204.5 263.3,203.3 263.6,202.1 263.8,200.8 264.1,199.6 264.3,198.4 264.6,197.1 264.8,195.9 265.1,194.7 265.3,193.4 265.6,192.2 265.8,191.0 266.1,189.7 266.3,188.5 266.6,187.3 266.8,186.0 267.1,184.8 267.3,183.6 267.6,182.4 267.8,181.1 268.1,179.9 268.3,178.7 268.6,177.5 268.8,176.2 269.1,175.0 269.3,173.8 269.6,172.6 269.8,171.4 270.1,170.2 270.3,169.0 270.6,167.8 270.8,166.6 271.1,165.4 271.3,164.2 271.6,163.0 271.8,161.8 272.1,160.6 272.3,159.4 272.6,158.2 272.8,157.1 273.1,155.9 273.3,154.7 273.6,153.6 273.8,152.4 274.1,151.2 274.3,150.1 274.6,148.9 274.8,147.8 275.1,146.7 275.3,145.5 275.6,144.4 275.8,143.3 276.1,142.1 276.3,141.0 276.6,139.9 276.8,138.8 277.1,137.7 277.3,136.6 277.6,135.5 277.8,134.5 278.1,133.4 278.3,132.3 278.6,131.3 278.8,130.2 279.1,129.2 279.3,128.1 279.6,127.1 279.8,126.1 280.1,125.0 280.3,124.0 280.6,123.0 280.8,122.0 281.1,121.0 281.3,120.0 281.6,119.1 282.1,117.1 282.6,115.3 283.1,113.4 283.6,111.6 284.1,109.8 284.6,108.0 285.1,106.3 285.6,104.6 286.1,103.0 286.6,101.4 287.1,99.8 287.6,98.3 288.1,96.8 288.6,95.4 289.1,94.0 289.6,92.7 290.1,91.4 290.6,90.1 291.1,88.9 291.6,87.8 292.1,86.7 292.6,85.7 293.1,84.7 293.6,83.7 294.1,82.8 294.8,81.6 295.6,80.5 296.3,79.5 297.1,78.7 297.8,77.9 298.8,77.1 299.8,76.5 300.8,76.1 301.8,75.8 302.8,75.7 303.8,75.8 304.8,76.1 305.8,76.5 306.8,77.0 307.8,77.8 308.8,78.6 309.6,79.3 310.3,80.1 311.1,80.9 311.8,81.9 312.6,82.9 313.3,83.9 314.1,85.0 314.8,86.2 315.6,87.4 316.3,88.6 316.8,89.5 317.3,90.4 317.8,91.3 318.3,92.2 318.8,93.2 319.3,94.1 319.8,95.1 320.3,96.1 320.8,97.1 321.3,98.1 321.8,99.1 322.3,100.2 322.8,101.2 323.3,102.3 323.8,103.4 324.3,104.5 324.8,105.6 325.3,106.7 325.8,107.8 326.3,108.9 326.8,110.1 327.3,111.2 327.8,112.4 328.3,113.5 328.8,114.7 329.3,115.9 329.8,117.1 330.3,118.3 330.8,119.4 331.3,120.6 331.8,121.8 332.3,123.0 332.8,124.2 333.3,125.5 333.8,126.7 334.3,127.9 334.8,129.1 335.3,130.3 335.8,131.5 336.3,132.7 336.8,134.0 337.3,135.2 337.8,136.4 338.3,137.6 338.8,138.8 339.3,140.0 339.8,141.2 340.3,142.4 340.8,143.6 341.3,144.8 341.8,146.0 342.3,147.1 342.8,148.3 343.3,149.5 343.8,150.6 344.3,151.8 344.8,152.9 345.3,154.0 345.8,155.1 346.3,156.2 346.8,157.3 347.3,158.4 347.8,159.5 348.3,160.5 348.8,161.6 349.3,162.6 349.8,163.6 350.3,164.6 350.8,165.6 351.3,166.5 351.8,167.5 352.3,168.4 352.8,169.3 353.3,170.2 353.8,171.1 354.6,172.3 355.3,173.6 356.1,174.8 356.8,175.9 357.6,177.1 358.3,178.2 359.1,179.4 359.8,180.5 360.6,181.6 361.3,182.7 362.1,183.8 362.8,184.9 363.6,186.0 364.3,187.1 365.1,188.3 365.8,189.4 366.6,190.6 367.3,191.8 368.1,193.0 368.8,194.2 369.6,195.4 370.3,196.6 371.1,197.9 371.8,199.1 372.6,200.3 373.3,201.5 374.1,202.7 374.8,203.8 375.6,205.0 376.3,206.1 377.1,207.3 377.8,208.4 378.6,209.5 379.3,210.5 380.1,211.6 380.8,212.6 381.6,213.6 382.3,214.6 383.1,215.6 383.8,216.6 384.6,217.5 385.3,218.5 386.1,219.4 386.8,220.3 387.6,221.2 388.3,222.0 389.1,222.9 389.8,223.7 390.6,224.6 391.3,225.4 392.1,226.2 392.8,227.0 393.6,227.7 394.3,228.5 395.1,229.2 395.8,230.0 396.6,230.7 397.3,231.4 398.1,232.1 398.8,232.8 399.6,233.5 400.3,234.1 401.3,235.0 402.3,235.8 403.3,236.7 404.3,237.5 405.3,238.3 406.3,239.1 407.3,239.8 408.3,240.6 409.3,241.3 410.3,242.1 411.3,242.8 412.3,243.5 413.3,244.2 414.3,244.9 415.3,245.5 416.3,246.2 417.3,246.9 418.3,247.5 419.3,248.2 420.3,248.8 421.3,249.4 422.3,250.0 423.3,250.7 424.3,251.3 425.3,251.9 426.3,252.5 427.3,253.1 428.3,253.7 429.3,254.3 430.3,254.9 431.3,255.5 432.3,256.1 433.3,256.7 434.3,257.3 435.3,257.9 436.3,258.5 437.3,259.2 438.3,259.8 439.3,260.4 440.3,261.0 441.3,261.7 442.3,262.3 443.3,263.0 444.3,263.7 445.3,264.3 446.3,265.0 447.3,265.7 448.3,266.4 449.3,267.1 450.3,267.9 451.3,268.6 452.3,269.4 453.3,270.1 454.3,270.9 455.3,271.7 456.3,272.5 457.3,273.3 458.3,274.2 459.3,275.0 460.3,275.8 461.3,276.7 462.3,277.5 463.3,278.4 464.3,279.2 465.3,280.1 466.3,280.9 467.3,281.8 468.3,282.6 469.3,283.4 470.3,284.2 471.3,285.0 472.3,285.8 473.3,286.6 474.3,287.4 475.3,288.2 476.3,288.9 477.3,289.6 478.3,290.3 479.3,291.0 480.3,291.7 481.3,292.3 482.3,292.9 483.3,293.5 484.3,294.1 485.3,294.6 486.3,295.1 487.3,295.6 488.3,296.0 489.3,296.4 490.3,296.8 491.3,297.2 492.3,297.6 493.3,297.9 494.3,298.2 495.3,298.5 496.3,298.8 497.3,299.0 498.3,299.2 499.3,299.4 500.3,299.6 501.3,299.8 502.3,300.0 503.3,300.1 504.3,300.3 505.3,300.4 506.3,300.5 507.3,300.6 508.3,300.7 509.3,300.8 510.3,300.8 511.3,300.9 512.3,300.9 513.3,301.0 514.3,301.0 515.3,301.1 516.3,301.1 517.3,301.1 518.3,301.1 519.3,301.1 520.3,301.2 521.3,301.2 522.3,301.2 523.3,301.2 524.3,301.2 525.3,301.3 526.3,301.3 527.3,301.3 528.3,301.4 529.3,301.4 529.8,301.4"/>
<path stroke="#ff00ff" d="M96.6,279.6 97.1,281.3 97.6,283.0 98.1,284.7 98.6,286.3 99.1,287.8 99.6,289.2 100.1,290.6 100.6,292.0 101.1,293.3 101.6,294.5 102.1,295.7 102.6,296.9 103.1,298.0 103.6,299.0 104.1,300.1 104.6,301.0 105.1,301.9 105.6,302.8 106.3,304.1 107.1,305.2 107.8,306.3 108.6,307.3 109.3,308.2 110.1,309.1 110.8,309.9 111.6,310.6 112.3,311.3 113.3,312.1 114.3,312.8 115.3,313.5 116.3,314.1 117.3,314.6 118.3,315.1 119.3,315.5 120.3,316.0 121.3,316.4 122.3,316.8 123.3,317.2 124.3,317.6 125.3,318.0 126.3,318.5 127.3,319.0 128.3,319.5 129.3,320.1 130.3,320.6 131.3,321.2 132.3,321.8 133.3,322.4 134.3,322.9 135.3,323.5 136.3,324.1 137.3,324.6 138.3,325.1 139.3,325.6 140.3,326.0 141.3,326.4 142.3,326.8 143.3,327.2 144.3,327.5 145.3,327.8 146.3,328.1 147.3,328.4 148.3,328.6 149.3,328.8 150.3,328.9 151.3,329.1 152.3,329.2 153.3,329.3 154.3,329.3 155.3,329.4 156.3,329.4 157.3,329.4 158.3,329.4 159.3,329.4 160.3,329.4 161.3,329.4 162.3,329.3 163.3,329.3 164.3,329.2 165.3,329.1 166.3,329.0 167.3,328.9 168.3,328.6 169.3,328.3 170.3,327.9 171.3,327.5 172.3,326.9 173.3,326.3 174.3,325.7 175.3,325.1 176.3,324.5 177.3,323.9 178.3,323.2 179.3,322.6 180.3,321.9 181.3,321.3 182.3,320.6 183.3,319.9 184.3,319.2 185.3,318.5 186.3,317.8 187.3,317.1 188.3,316.4 189.3,315.6 190.3,314.9 191.3,314.2 192.3,313.4 193.3,312.6 194.3,311.9 195.3,311.1 196.3,310.3 197.3,309.5 198.3,308.7 199.3,307.9 200.3,307.1 201.3,306.3 202.3,305.5 203.3,304.6 204.3,303.8 205.3,303.0 206.3,302.2 207.3,301.3 208.3,300.5 209.3,299.7 210.3,298.9 211.3,298.1 212.3,297.3 213.3,296.5 214.3,295.8 215.3,295.1 216.3,294.4 217.3,293.7 218.3,293.0 219.3,292.4 220.3,291.8 221.3,291.3 222.3,290.8 223.3,290.3 224.3,289.8 225.3,289.5 226.3,289.1 227.3,288.8 228.3,288.5 229.3,288.3 230.3,288.2 231.3,288.1 232.3,288.1 233.3,288.1 234.3,288.2 235.3,288.3 236.3,288.5 237.3,288.8 238.3,289.1 239.3,289.5 240.3,289.9 241.3,290.3 242.3,290.9 243.3,291.4 244.3,292.0 245.3,292.7 246.3,293.4 247.3,294.1 248.3,294.9 249.3,295.7 250.3,296.5 251.3,297.4 252.1,298.1 252.8,298.8 253.6,299.5 254.3,300.2 255.1,301.0 255.8,301.7 256.6,302.5 257.4,303.3 258.1,304.1 258.9,304.9 259.6,305.7 260.4,306.5 261.1,307.4 261.9,308.2 262.6,309.0 263.4,309.8 264.1,310.6 264.9,311.3 265.6,312.1 266.4,312.8 267.1,313.5 267.9,314.1 268.6,314.8 269.6,315.7 270.6,316.6 271.4,317.2 272.1,317.9 272.9,318.6 273.6,319.3 274.4,319.9 275.4,320.8 276.4,321.7 277.4,322.5 278.4,323.3 279.4,324.1 280.4,324.8 281.4,325.5 282.4,326.2 283.4,326.8 284.4,327.3 285.4,327.8 286.4,328.2 287.4,328.5 288.4,328.8 289.4,328.9 290.4,329.0 291.4,329.1 292.4,329.0 293.4,329.0 294.4,328.8 295.4,328.6 296.4,328.3 297.4,328.0 298.4,327.7 299.4,327.3 300.4,326.8 301.4,326.3 302.4,325.8 303.4,325.2 304.4,324.6 305.4,324.0 306.4,323.4 307.4,322.7 308.4,322.0 309.4,321.3 310.4,320.6 311.4,319.8 312.4,319.1 313.4,318.3 314.4,317.6 315.4,316.8 316.4,316.1 317.4,315.3 318.4,314.6 319.4,313.8 320.4,313.1 321.4,312.3 322.4,311.6 323.4,310.9 324.4,310.1 325.4,309.4 326.4,308.7 327.4,307.9 328.4,307.2 329.4,306.5 330.4,305.8 331.4,305.2 332.4,304.5 333.4,303.8 334.4,303.2 335.4,302.5 336.4,301.9 337.4,301.3 338.4,300.7 339.4,300.1 340.4,299.5 341.4,298.9 342.4,298.4 343.4,297.8 344.4,297.3 345.4,296.8 346.4,296.4 347.4,295.9 348.4,295.4 349.4,295.0 350.4,294.5 351.4,294.0 352.4,293.6 353.4,293.1 354.4,292.6 355.4,292.1 356.4,291.6 357.4,291.1 358.4,290.5 359.4,289.9 360.4,289.3 361.4,288.6 362.4,287.9 363.4,287.2 364.4,286.4 365.4,285.6 366.4,284.8 367.4,284.0 368.4,283.1 369.4,282.2 370.1,281.6 370.9,280.9 371.6,280.2 372.4,279.5 373.1,278.8 373.9,278.1 374.6,277.4 375.4,276.7 376.1,276.1 376.9,275.4 377.6,274.7 378.4,273.9 379.1,273.2 379.9,272.5 380.6,271.8 381.4,271.1 382.1,270.4 382.9,269.7 383.6,269.0 384.4,268.3 385.1,267.6 385.9,266.9 386.6,266.2 387.4,265.5 388.1,264.8 388.9,264.1 389.6,263.4 390.4,262.7 391.1,262.0 391.9,261.3 392.6,260.6 393.4,259.9 394.1,259.3 394.9,258.6 395.6,257.9 396.4,257.2 397.1,256.6 397.9,255.9 398.6,255.2 399.4,254.6 400.4,253.7 401.4,252.8 402.4,251.9 403.4,251.1 404.4,250.3 405.4,249.5 406.4,248.7 407.4,247.9 408.4,247.1 409.4,246.4 410.4,245.7 411.4,245.0 412.4,244.4 413.4,243.8 414.4,243.2 415.4,242.6 416.4,242.1 417.4,241.7 418.4,241.3 419.4,240.9 420.4,240.6 421.4,240.3 422.4,240.0 423.4,239.8 424.4,239.7 425.4,239.6 426.4,239.5 427.4,239.5 428.4,239.5 429.4,239.6 430.4,239.7 431.4,239.8 432.4,240.0 433.4,240.2 434.4,240.5 435.4,240.9 436.4,241.2 437.4,241.7 438.4,242.1 439.4,242.6 440.4,243.2 441.4,243.8 442.4,244.4 443.4,245.0 444.4,245.7 445.4,246.5 446.4,247.3 447.4,248.1 448.4,248.9 449.4,249.8 450.1,250.5 450.9,251.1 451.6,251.9 452.4,252.6 453.1,253.3 453.9,254.1 454.6,254.9 455.4,255.7 456.1,256.5 456.9,257.3 457.6,258.1 458.4,259.0 459.1,259.8 459.9,260.7 460.6,261.6 461.4,262.5 462.1,263.4 462.9,264.3 463.6,265.2 464.4,266.2 465.1,267.1 465.9,268.0 466.6,269.0 467.4,269.9 468.1,270.9 468.9,271.8 469.6,272.7 470.4,273.6 471.1,274.6 471.9,275.5 472.6,276.4 473.4,277.3 474.1,278.1 474.9,279.0 475.6,279.8 476.4,280.6 477.1,281.4 477.9,282.2 478.6,282.9 479.4,283.7 480.1,284.3 480.9,285.0 481.9,285.9 482.9,286.7 483.9,287.5 484.9,288.2 485.9,288.9 486.9,289.6 487.9,290.3 488.9,290.9 489.9,291.5 490.9,292.1 491.9,292.6 492.9,293.2 493.9,293.7 494.9,294.1 495.9,294.6 496.9,295.1 497.9,295.5 498.9,296.0 499.9,296.4 500.9,296.8 501.9,297.2 502.9,297.5 503.9,297.9 504.9,298.3 505.9,298.6 506.9,298.9 507.9,299.2 508.9,299.5 509.9,299.8 510.9,300.0 511.9,300.3 512.9,300.5 513.9,300.8 514.9,301.0 515.9,301.1 516.9,301.3 517.9,301.5 518.9,301.6 519.9,301.7 520.9,301.8 521.9,301.8 522.9,301.9 523.9,301.9 524.9,301.9 525.9,301.8 526.9,301.7 527.9,301.6 528.9,301.5 529.9,301.3"/>
</g>
<g stroke="#000" stroke-width="1.40" fill="none">
<path d="M96.80,22.85 H530.05 V440.05 H96.80 Z" stroke-linejoin="miter"/>
<path d="M96.80,440.05h6.00 M96.80,426.14h3.50 M96.80,412.24h3.50 M96.80,398.33h3.50 M96.80,384.42h3.50 M96.80,370.52h6.00 M96.80,356.61h3.50 M96.80,342.70h3.50 M96.80,328.80h3.50 M96.80,314.89h3.50 M96.80,300.98h6.00 M96.80,287.08h3.50 M96.80,273.17h3.50 M96.80,259.26h3.50 M96.80,245.36h3.50 M96.80,231.45h6.00 M96.80,217.54h3.50 M96.80,203.64h3.50 M96.80,189.73h3.50 M96.80,175.82h3.50 M96.80,161.92h6.00 M96.80,148.01h3.50 M96.80,134.10h3.50 M96.80,120.20h3.50 M96.80,106.29h3.50 M96.80,92.38h6.00 M96.80,78.48h3.50 M96.80,64.57h3.50 M96.80,50.66h3.50 M96.80,36.76h3.50 M96.80,22.85h6.00 M96.80,440.05v-6.00 M114.13,440.05v-3.50 M131.46,440.05v-3.50 M148.79,440.05v-3.50 M166.12,440.05v-3.50 M183.45,440.05v-6.00 M200.78,440.05v-3.50 M218.11,440.05v-3.50 M235.44,440.05v-3.50 M252.77,440.05v-3.50 M270.10,440.05v-6.00 M287.43,440.05v-3.50 M304.76,440.05v-3.50 M322.09,440.05v-3.50 M339.42,440.05v-3.50 M356.75,440.05v-6.00 M374.08,440.05v-3.50 M391.41,440.05v-3.50 M408.74,440.05v-3.50 M426.07,440.05v-3.50 M443.40,440.05v-6.00 M460.73,440.05v-3.50 M478.06,440.05v-3.50 M495.39,440.05v-3.50 M512.72,440.05v-3.50 M530.05,440.05v-6.00"/>
</g>
<g font-family="Liberation Serif" font-size="21" fill="#000">
<text x="86.30" y="30.15" text-anchor="end">8</text>
<text x="86.30" y="99.68" text-anchor="end">6</text>
<text x="86.30" y="169.22" text-anchor="end">4</text>
<text x="86.30" y="238.75" text-anchor="end">2</text>
<text x="86.30" y="308.28" text-anchor="end">0</text>
<text x="86.30" y="377.82" text-anchor="end">-2</text>
<text x="86.30" y="447.35" text-anchor="end">-4</text>
<text x="96.80" y="469.00" text-anchor="middle">220</text>
<text x="183.45" y="469.00" text-anchor="middle">240</text>
<text x="270.10" y="469.00" text-anchor="middle">260</text>
<text x="356.75" y="469.00" text-anchor="middle">280</text>
<text x="443.40" y="469.00" text-anchor="middle">300</text>
<text x="530.05" y="469.00" text-anchor="middle">320</text>
</g>
<text transform="translate(313.5,512) scale(1.038,1)" text-anchor="middle" font-family="Liberation Serif" font-size="26.5">Wavelength (nm)</text>
<text transform="translate(46.5,431) scale(1.038,1) rotate(-90)" font-family="Liberation Serif" font-size="26.5">Molar Ellipticity (10<tspan font-size="17" dy="-13">6</tspan><tspan dy="13"> mdeg M</tspan><tspan font-size="17" dy="-13">-1</tspan><tspan dy="13"> cm</tspan><tspan font-size="17" dy="-13">-1</tspan><tspan dy="13">)</tspan></text>
</svg>
</body></html>
